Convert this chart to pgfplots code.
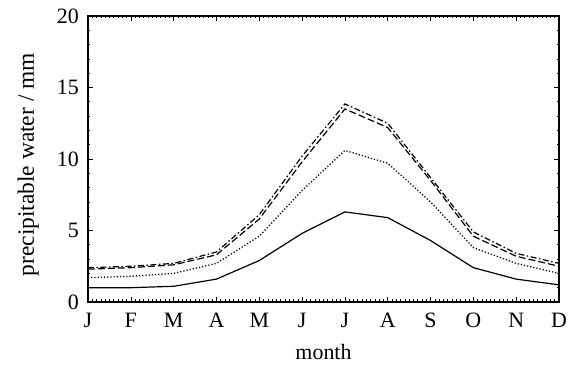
\documentclass[border=0pt]{standalone}
\usepackage{fontspec}
\setmainfont{Liberation Serif}
\usepackage{pgfplots}
\pgfplotsset{compat=1.18}
\begin{document}
\begin{tikzpicture}
\useasboundingbox (0,0) rectangle (568bp,371bp);
\begin{axis}[
  at={(88bp,69bp)}, anchor=south west,
  scale only axis,
  width=471bp, height=286bp,
  xmin=0, xmax=11, ymin=0, ymax=20,
  xtick={0,...,11},
  xticklabels={J,F,M,A,M,J,J,A,S,O,N,D},
  ytick={0,5,10,15,20},
  minor x tick num=9,
  minor y tick num=4,
  tick align=inside,
  tick pos=both,
  major tick length=5bp,
  minor tick length=2.5bp,
  axis line style={line width=1.2bp},
  tick style={line width=0.6bp, black},
  /pgf/number format/assume math mode=true,
  tick label style={font=\fontsize{22}{26}\selectfont},
  xticklabel style={anchor=north, inner sep=0pt, yshift=-11bp},
  yticklabel style={anchor=east, inner sep=0pt, xshift=-9bp},
  xlabel={month},
  ylabel={precipitable water / mm},
  xlabel style={font=\fontsize{22}{26}\selectfont, at={(axis description cs:0.5,-0.175)}, anchor=center},
  ylabel style={font=\fontsize{23.5}{28}\selectfont, at={(axis description cs:-0.127,0.48)}, anchor=center},
  every axis plot/.append style={black, line width=1.2bp, mark=none},
]
\addplot[solid] coordinates {(0,1.0)(1,1.0)(2,1.1)(3,1.6)(4,2.9)(5,4.8)(6,6.3)(7,5.9)(8,4.3)(9,2.4)(10,1.6)(11,1.2)};
\addplot[dotted, line width=1.3bp] coordinates {(0,1.7)(1,1.8)(2,2.0)(3,2.7)(4,4.6)(5,7.8)(6,10.6)(7,9.7)(8,7.0)(9,3.8)(10,2.7)(11,2.0)};
\addplot[dash pattern=on 7bp off 3bp] coordinates {(0,2.3)(1,2.4)(2,2.6)(3,3.3)(4,5.8)(5,9.8)(6,13.5)(7,12.2)(8,8.5)(9,4.6)(10,3.2)(11,2.5)};
\addplot[dash pattern=on 6bp off 2.5bp on 1.5bp off 2.5bp] coordinates {(0,2.4)(1,2.5)(2,2.7)(3,3.5)(4,6.1)(5,10.2)(6,13.85)(7,12.5)(8,8.7)(9,4.9)(10,3.4)(11,2.7)};
\end{axis}
\end{tikzpicture}
\end{document}
